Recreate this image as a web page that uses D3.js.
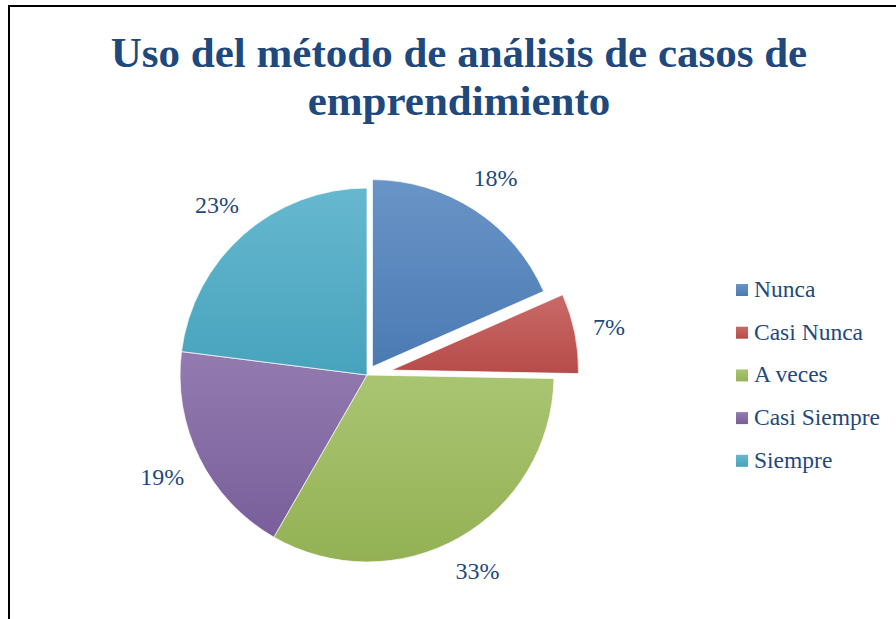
<!DOCTYPE html>
<html>
<head>
<meta charset="utf-8">
<script src="https://cdn.jsdelivr.net/npm/d3@7"></script>
<style>
    body { margin: 0; background: #fff; }
    svg { display: block; }
    text { font-family: "Liberation Serif", "Times New Roman", Tinos, "DejaVu Serif", serif; }
</style>
</head>
<body>
<script>
// data (shares; labels show them rounded)
const categories = ["Nunca", "Casi Nunca", "A veces", "Casi Siempre", "Siempre"];
const shares = [18.4, 6.9, 33.0, 18.7, 23.0];
const explode = [10, 25, 0, 0, 0]; // how far each slice is pulled out
const baseColors = ["#4F81BD", "#C0504D", "#9BBB59", "#8064A2", "#4BACC6"];
const titleLines = ["Uso del método de análisis de casos de", "emprendimiento"];

const width = 896;
const height = 619;
const textColor = "#1F497D";

const svg = d3.select("body").append("svg").attr("width", width).attr("height", height);

// chart frame (runs off the right and bottom edges)
svg.append("rect")
    .attr("x", 9).attr("y", 6)
    .attr("width", 900).attr("height", 640)
    .attr("fill", "#fff")
    .attr("stroke", "#000")
    .attr("stroke-width", 2);

// title
{
    const title = svg.append("text")
        .attr("text-anchor", "middle")
        .attr("fill", textColor)
        .style("font-weight", "bold")
        .style("font-size", "43px");
    titleLines.forEach((line, i) => {
        title.append("tspan").attr("x", 459).attr("y", 67 + i * 48).text(line);
    });
}

// gradients
const defs = svg.append("defs");
baseColors.forEach((c, i) => {
    const g = defs.append("linearGradient")
        .attr("id", `grad${i}`)
        .attr("x1", 0).attr("y1", 0).attr("x2", 0).attr("y2", 1);
    g.append("stop").attr("offset", "0%").attr("stop-color", d3.interpolateRgb(c, "#fff")(0.15));
    g.append("stop").attr("offset", "100%").attr("stop-color", d3.color(c).darker(0.15));
});

// pie
{
    const cx = 367, cy = 375, r = 187;
    const gap = 17; // space between pie edge and label box
    const total = d3.sum(shares);
    const pie = d3.pie().sort(null).value((d) => d)(shares);
    const arc = d3.arc().innerRadius(0).outerRadius(r);
    const mid = (d) => (d.startAngle + d.endAngle) / 2;

    const offset = (d, i) => {
        const a = mid(d);
        return [explode[i] * Math.sin(a), -explode[i] * Math.cos(a)];
    };

    const pieG = svg.append("g").attr("transform", `translate(${cx},${cy})`);

    const slices = pieG.selectAll("g.slice")
        .data(pie)
        .enter()
        .append("g")
        .attr("class", "slice")
        .attr("transform", (d, i) => `translate(${offset(d, i)})`);

    slices.append("path")
        .attr("d", arc)
        .attr("fill", (d, i) => `url(#grad${i})`)
        .attr("stroke", "#fff")
        .attr("stroke-width", 1)
        .attr("stroke-opacity", 0.7);

    // labels sit just outside the edge, box edge at r + gap
    slices.append("text")
        .attr("text-anchor", "middle")
        .attr("dy", "0.35em")
        .attr("fill", textColor)
        .style("font-size", "24px")
        .text((d) => d3.format(".0%")(d.data / total))
        .attr("transform", function (d) {
            const bb = this.getBBox();
            const a = mid(d);
            const sx = Math.sin(a), sy = -Math.cos(a);
            const ext = (bb.width / 2) * Math.abs(sx) + (bb.height / 2 - 2) * Math.abs(sy);
            const rr = r + gap + ext;
            return `translate(${rr * sx},${rr * sy})`;
        });
}

// legend
{
    const legend = svg.append("g").attr("transform", "translate(736,284)");
    const rows = legend.selectAll("g")
        .data(categories)
        .enter()
        .append("g")
        .attr("transform", (d, i) => `translate(0,${i * 42.7})`);

    rows.append("rect")
        .attr("width", 12).attr("height", 12)
        .attr("fill", (d, i) => `url(#grad${i})`);

    rows.append("text")
        .attr("x", 18).attr("y", 13)
        .attr("fill", textColor)
        .style("font-size", "23.5px")
        .text((d) => d);
}
</script>
</body>
</html>
